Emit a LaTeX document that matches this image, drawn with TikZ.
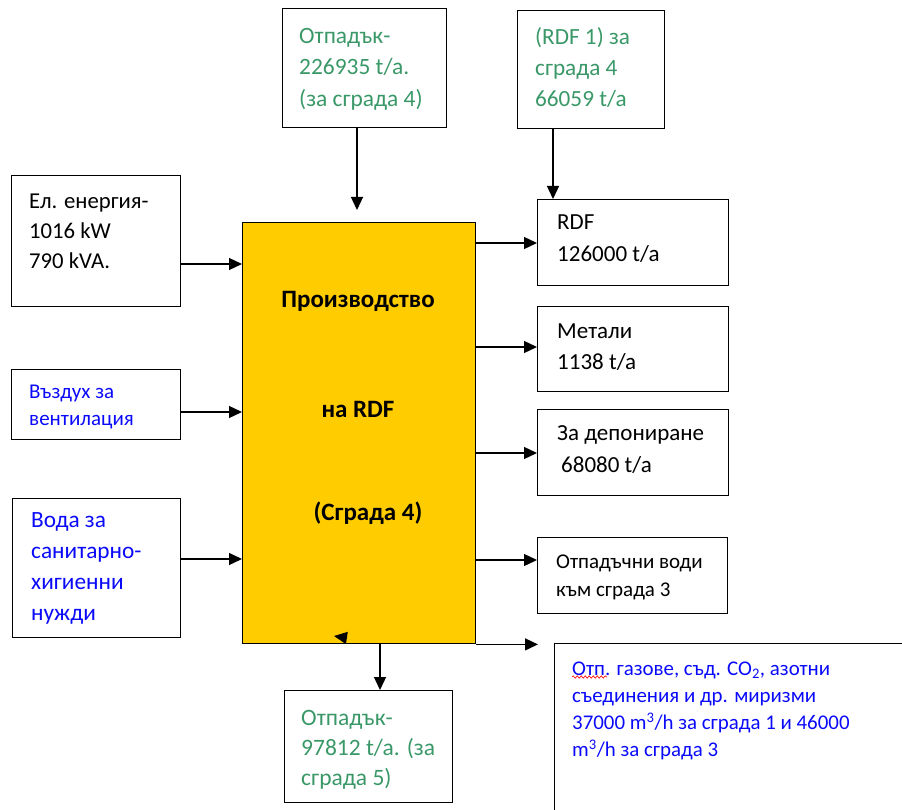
\documentclass[tikz,border=0pt]{standalone}
\usepackage{fontspec}
\setmainfont{Carlito}
\usetikzlibrary{arrows.meta,decorations.pathmorphing}

\definecolor{rdfyellow}{RGB}{255,204,0}
\definecolor{rdfgreen}{RGB}{58,152,104}
\definecolor{rdfblue}{RGB}{10,10,250}

\tikzset{
    box/.style={draw, line width=1.4pt, anchor=north west, inner sep=0pt},
    txt/.style={anchor=north west, inner sep=0pt, align=left},
    flow/.style={line width=1.3pt, -{Triangle[length=13pt,width=12pt]}},
}

\begin{document}
\begin{tikzpicture}[x=1pt, y=-1pt]
    \useasboundingbox (0,0) rectangle (902,810);
    \clip (0,0) rectangle (902,810);
    % main block
    \node[box, fill=rdfyellow, minimum width=233pt, minimum height=421pt] (main) at (242,222) {};
    \node[font=\fontsize{25}{28}\bfseries] (mainA) at (358,301) {Производство};
    \node[font=\fontsize{25}{28}\bfseries] (mainB) at (358,409) {на RDF};
    \node[font=\fontsize{25}{28}\bfseries] (mainC) at (368,513) {(Сграда 4)};

    % inputs
    \node[box, minimum width=164pt, minimum height=119pt] (src) at (282,8) {};
    \node[txt, text=rdfgreen, font=\fontsize{23.4}{31.5}\selectfont] (srcT) at (299,28)
        {Отпадък-\\226935 t/a.\\(за сграда 4)};
    \node[box, minimum width=147pt, minimum height=118pt] (rdfin) at (517,10) {};
    \node[txt, text=rdfgreen, font=\fontsize{23.2}{31}\selectfont] (rdfinT) at (535,27)
        {(RDF 1) за\\сграда 4\\66059 t/a};
    \node[box, minimum width=169pt, minimum height=131pt] (el) at (11,175) {};
    \node[txt, font=\fontsize{22.7}{30}\selectfont] (elT) at (29,194)
        {Ел. енергия-\\1016 kW\\790 kVA.};
    \node[box, minimum width=169pt, minimum height=70pt] (air) at (11,369) {};
    \node[txt, text=rdfblue, font=\fontsize{21}{27}\selectfont] (airT) at (29,385)
        {Въздух за\\вентилация};
    \node[box, minimum width=168pt, minimum height=139pt] (water) at (12,498) {};
    \node[txt, text=rdfblue, font=\fontsize{23.3}{31}\selectfont] (waterT) at (31,512)
        {Вода за\\санитарно-\\хигиенни\\нужди};

    % outputs
    \node[box, minimum width=191pt, minimum height=86pt] (rdf) at (537,199) {};
    \node[txt, font=\fontsize{23}{32}\selectfont] (rdfT) at (557,215) {RDF\\126000 t/a};
    \node[box, minimum width=191pt, minimum height=85pt] (metal) at (537,306) {};
    \node[txt, font=\fontsize{23}{31}\selectfont] (metalT) at (557,324) {Метали\\1138 t/a};
    \node[box, minimum width=191pt, minimum height=86pt] (depon) at (537,409) {};
    \node[txt, font=\fontsize{23}{32}\selectfont] (deponT) at (557,425)
        {За депониране\\\hspace*{4pt}68080 t/a};
    \node[box, minimum width=190pt, minimum height=76pt] (ww) at (537,537) {};
    \node[txt, font=\fontsize{21}{28}\selectfont] (wwT) at (556,555)
        {Отпадъчни води\\към сграда 3};
    \node[box, minimum width=370pt, minimum height=190pt] (gas) at (554,643) {};
    \node[txt, text=rdfblue, font=\fontsize{20.9}{27}\selectfont] (gasT) at (572,662)
        {Отп. газове, съд. CO\textsubscript{2}, азотни\\съединения и др. миризми\\37000 m\textsuperscript{3}/h за сграда 1 и 46000\\m\textsuperscript{3}/h за сграда 3};
    \draw[red, line width=0.6pt, decorate, decoration={snake, amplitude=1.2pt, segment length=4pt}]
        (572,677) -- (607,677);
    \node[box, minimum width=168pt, minimum height=112pt] (out5) at (284,690) {};
    \node[txt, text=rdfgreen, font=\fontsize{23.5}{30}\selectfont] (out5T) at (301,710)
        {Отпадък-\\97812 t/a. (за\\сграда 5)};

    % connectors
    \coordinate (srcend) at (357,210);
    \draw[flow] (src.south -| srcend) -- (srcend);
    \draw[flow] (rdfin.south -| 553,0) -- (rdf.north -| 553,0);
    \draw[flow] (el.east |- 0,264) -- (main.west |- 0,264);
    \draw[flow] (air.east |- 0,412) -- (main.west |- 0,412);
    \draw[flow] (water.east |- 0,559) -- (main.west |- 0,559);
    \draw[flow] (main.east |- 0,243) -- (rdf.west |- 0,243);
    \draw[flow] (main.east |- 0,347) -- (metal.west |- 0,347);
    \draw[flow] (main.east |- 0,453) -- (depon.west |- 0,453);
    \draw[flow] (main.east |- 0,560) -- (ww.west |- 0,560);
    \coordinate (gasend) at (538,643);
    \draw[flow] (main.south east) -- (main.south east -| gasend);
    \draw[flow] (main.south -| 380,0) -- (out5.north -| 380,0);
    \coordinate (stray) at (334,636);
    \draw[flow] (347,638) -- (stray);
\end{tikzpicture}
\end{document}
